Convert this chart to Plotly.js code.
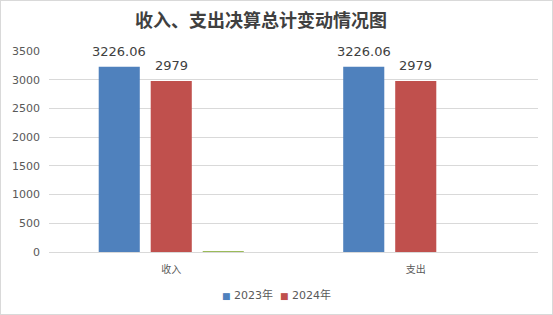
<!DOCTYPE html>
<html>
<head>
<meta charset="utf-8">
<script src="https://cdn.plot.ly/plotly-3.0.1.min.js"></script>
<style>
html,body{margin:0;padding:0;background:#fff;}
#wrap{position:relative;width:553px;height:315px;}
#chart{position:absolute;left:0;top:0;width:553px;height:315px;}
#border{position:absolute;left:0;top:0;width:553px;height:315px;box-sizing:border-box;border:1px solid #d9d9d9;pointer-events:none;}
</style>
</head>
<body>
<div id="wrap"><div id="chart"></div><div id="border"></div></div>
<script>
const categories = ["收入", "支出"];
const values2023 = [3226.06, 3226.06];
const values2024 = [2979, 2979];
const valuesOther = [17, null];
const seriesNames = ["2023年", "2024年"];
const yTicks = [0, 500, 1000, 1500, 2000, 2500, 3000, 3500];

const FONT = '"DejaVu Sans", "Noto Sans CJK SC", sans-serif';
const colors = ["#4F81BD", "#C0504D", "#9BBB59"];

const traces = [
  {type: "bar", name: seriesNames[0], x: categories, y: values2023, marker: {color: colors[0]}, hoverinfo: "none", showlegend: false},
  {type: "bar", name: seriesNames[1], x: categories, y: values2024, marker: {color: colors[1]}, hoverinfo: "none", showlegend: false},
  {type: "bar", name: "", x: categories, y: valuesOther, marker: {color: colors[2]}, showlegend: false, hoverinfo: "none"}
];

// data labels above bars (series 2023 and 2024)
const slotShift = 52;
const annotations = [];
[[values2023, -slotShift], [values2024, 0]].forEach(([vals, shift]) => {
  vals.forEach((v, i) => {
    annotations.push({
      x: categories[i], y: v, xref: "x", yref: "y",
      text: String(v), showarrow: false,
      xanchor: "center", yanchor: "bottom",
      xshift: shift, yshift: 6,
      font: {family: FONT, size: 13, color: "#404040"}
    });
  });
});

// compact legend, Excel style
const legendText = seriesNames.map((n, i) =>
  '<span style="color:' + colors[i] + ';font-size:9px">■</span> ' + n
).join('  ');
annotations.push({
  xref: "paper", yref: "paper", x: 0.4655, y: -0.216,
  xanchor: "center", yanchor: "middle", showarrow: false,
  text: legendText,
  font: {family: FONT, size: 11, color: "#595959"}
});

const layout = {
  width: 553, height: 315,
  margin: {l: 49, r: 15, t: 51, b: 63, autoexpand: false},
  paper_bgcolor: "#fff", plot_bgcolor: "#fff",
  title: {
    text: "<b>收入、支出决算总计变动情况图</b>",
    x: 0.472, xref: "container", xanchor: "center",
    y: 0.935, yref: "container", yanchor: "middle",
    font: {family: '"Noto Sans CJK SC", sans-serif', size: 18, color: "#404040"}
  },
  barmode: "group",
  bargap: 0.362,
  bargroupgap: 0.21,
  xaxis: {
    type: "category", automargin: false,
    showgrid: false, zeroline: false,
    showline: true, linecolor: "#d9d9d9", linewidth: 1,
    ticks: "", ticklabelstandoff: 8,
    tickfont: {family: '"Noto Sans CJK SC", sans-serif', size: 10, color: "#595959"}
  },
  yaxis: {
    range: [0, 3500], automargin: false,
    tickvals: yTicks,
    showgrid: true, gridcolor: "#d9d9d9", gridwidth: 1,
    zeroline: false, showline: false,
    ticks: "", ticklabelstandoff: 8,
    tickfont: {family: FONT, size: 11, color: "#595959"}
  },
  showlegend: false,
  annotations: annotations
};

Plotly.newPlot("chart", traces, layout, {staticPlot: true, displayModeBar: false});
</script>
</body>
</html>
